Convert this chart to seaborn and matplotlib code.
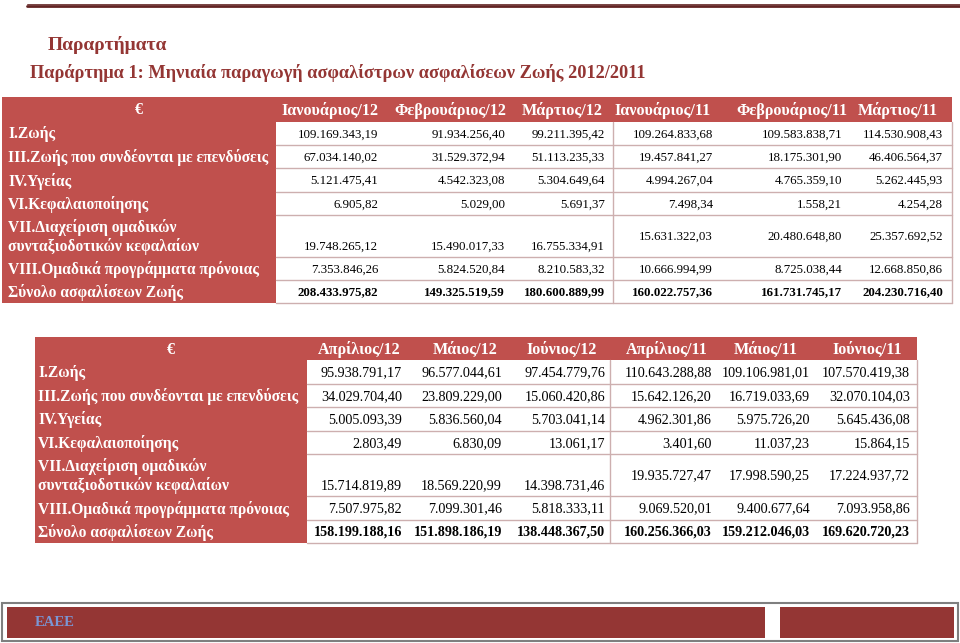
import numpy as np
import pandas as pd
import matplotlib
matplotlib.use("Agg")
import matplotlib.pyplot as plt
import seaborn as sns
from matplotlib.patches import Rectangle

sns.set_theme(style="white")
plt.rcParams['font.family'] = ['Liberation Serif', 'DejaVu Serif']

# ---------------- data ----------------
row_labels = ["I.Ζωής",
              "III.Ζωής που συνδέονται με επενδύσεις",
              "IV.Υγείας",
              "VI.Κεφαλαιοποίησης",
              "VII.Διαχείριση ομαδικών\nσυνταξιοδοτικών κεφαλαίων",
              "VIII.Ομαδικά προγράμματα πρόνοιας",
              "Σύνολο ασφαλίσεων Ζωής"]

months_t1 = ["Ιανουάριος/12", "Φεβρουάριος/12", "Μάρτιος/12",
             "Ιανουάριος/11", "Φεβρουάριος/11", "Μάρτιος/11"]
months_t2 = ["Απρίλιος/12", "Μάιος/12", "Ιούνιος/12",
             "Απρίλιος/11", "Μάιος/11", "Ιούνιος/11"]

jan12 = [109169343.19, 67034140.02, 5121475.41, 6905.82, 19748265.12, 7353846.26, 208433975.82]
feb12 = [91934256.40, 31529372.94, 4542323.08, 5029.00, 15490017.33, 5824520.84, 149325519.59]
mar12 = [99211395.42, 51113235.33, 5304649.64, 5691.37, 16755334.91, 8210583.32, 180600889.99]
jan11 = [109264833.68, 19457841.27, 4994267.04, 7498.34, 15631322.03, 10666994.99, 160022757.36]
feb11 = [109583838.71, 18175301.90, 4765359.10, 1558.21, 20480648.80, 8725038.44, 161731745.17]
mar11 = [114530908.43, 46406564.37, 5262445.93, 4254.28, 25357692.52, 12668850.86, 204230716.40]

apr12 = [95938791.17, 34029704.40, 5005093.39, 2803.49, 15714819.89, 7507975.82, 158199188.16]
may12 = [96577044.61, 23809229.00, 5836560.04, 6830.09, 18569220.99, 7099301.46, 151898186.19]
jun12 = [97454779.76, 15060420.86, 5703041.14, 13061.17, 14398731.46, 5818333.11, 138448367.50]
apr11 = [110643288.88, 15642126.20, 4962301.86, 3401.60, 19935727.47, 9069520.01, 160256366.03]
may11 = [109106981.01, 16719033.69, 5975726.20, 11037.23, 17998590.25, 9400677.64, 159212046.03]
jun11 = [107570419.38, 32070104.03, 5645436.08, 15864.15, 17224937.72, 7093958.86, 169620720.23]

title = "Παραρτήματα"
subtitle = "Παράρτημα 1: Μηνιαία παραγωγή ασφαλίστρων ασφαλίσεων Ζωής 2012/2011"
footer_text = "ΕΑΕΕ"

df1 = pd.DataFrame(dict(zip(months_t1, [jan12, feb12, mar12, jan11, feb11, mar11])), index=row_labels)
df2 = pd.DataFrame(dict(zip(months_t2, [apr12, may12, jun12, apr11, may11, jun11])), index=row_labels)

# ---------------- style ----------------
RED = "#C0504D"
DARK = "#943634"
RULE = "#622423"
GRID = "#CDAFAF"


def fmt(v):
    s = f"{v:,.2f}"
    return s.replace(",", "#").replace(".", ",").replace("#", ".")


fig = plt.figure(figsize=(9.6, 6.43), dpi=100)
ax = fig.add_axes([0, 0, 1, 1])
ax.set_xlim(0, 960)
ax.set_ylim(643, 0)
ax.axis("off")


def draw_table(df, x0, xlab, x1, yedges, header_cx, value_rx, label_x, fs_head, fs_lab, fs_val, sep_x):
    top, hb, bottom = yedges[0], yedges[1], yedges[-1]
    ax.add_patch(Rectangle((x0, top), x1 - x0, hb - top, color=RED, lw=0))
    ax.add_patch(Rectangle((x0, hb), xlab - x0, bottom - hb, color=RED, lw=0))
    for y in yedges[2:-1]:
        ax.plot([xlab, x1], [y, y], color=GRID, lw=1.0)
    ax.plot([xlab, x1], [bottom, bottom], color=GRID, lw=1.0)
    ax.plot([x1, x1], [hb, bottom], color=GRID, lw=1.0)
    ax.plot([sep_x, sep_x], [hb, bottom], color=GRID, lw=1.0)
    ax.text((x0 + xlab) / 2, (top + hb) / 2 + 1, "€", color="white", ha="center", va="center",
            fontsize=fs_head, fontweight="bold")
    for j, m in enumerate(df.columns):
        ax.text(header_cx[j], (top + hb) / 2 + 1, m, color="white", ha="center", va="center",
                fontsize=fs_head, fontweight="bold")
    nrows = len(df.index)
    for i, lab in enumerate(df.index):
        ya, yb = yedges[i + 1], yedges[i + 2]
        yc = (ya + yb) / 2 + 1
        ax.text(label_x, yc, lab, color="white", ha="left", va="center",
                fontsize=fs_lab, fontweight="bold", linespacing=1.2)
        bold = (i == nrows - 1)
        two_line = "\n" in lab
        for j, m in enumerate(df.columns):
            y = yc
            if two_line and j < 3:
                y = yb - 10
            ax.text(value_rx[j], y, fmt(df.loc[lab, m]), color="black", ha="right", va="center",
                    fontsize=fs_val, fontweight="bold" if bold else "normal")


# top rules
ax.plot([27, 960], [3.5, 3.5], color=RULE, lw=0.6)
ax.plot([27, 960], [6.2, 6.2], color=RULE, lw=2.0)

ax.text(48, 45, title, color=DARK, fontsize=14, fontweight="bold", ha="left", va="center")
ax.text(30, 73, subtitle, color=DARK, fontsize=13.2, fontweight="bold", ha="left", va="center")

draw_table(df1, 2, 276, 952, [97, 122, 145, 168, 192, 215, 257, 280, 303],
           [330, 450, 562, 663, 792, 898], [378, 505, 605, 713, 842, 943],
           8, 11.6, 11.2, 9.3, 613)

draw_table(df2, 35, 307, 917, [337, 360, 384, 407, 431, 454, 496, 520, 543],
           [359, 465, 562, 667, 766, 867], [402, 502, 605, 712, 810, 910],
           38, 11.6, 11.2, 10.2, 610)

# footer
ax.add_patch(Rectangle((2, 603), 956, 38, fill=False, edgecolor="#7f7f7f", lw=1.5))
ax.add_patch(Rectangle((7, 607), 758, 31, color=DARK, lw=0))
ax.add_patch(Rectangle((780, 607), 174, 31, color=DARK, lw=0))
ax.text(35, 623, footer_text, color="#7B96D4", fontsize=10.5, fontweight="bold", ha="left", va="center")

fig.savefig("out.png", dpi=100)
